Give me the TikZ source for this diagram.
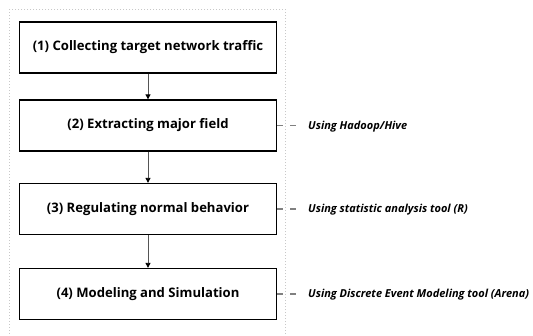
\documentclass[tikz,border=0pt]{standalone}
\usepackage{fontspec}
\setmainfont{Open Sans}
\usetikzlibrary{arrows.meta}
\definecolor{framegray}{HTML}{C8C8C8}
\definecolor{linkgray}{HTML}{808080}
\definecolor{arrowgray}{HTML}{555555}
\begin{document}
\begin{tikzpicture}[x=1pt,y=-1pt,
  stepbox/.style={draw=black,line width=1.3pt,minimum width=257pt,minimum height=51pt,
    inner sep=0pt,font=\fontsize{13.1}{15}\selectfont\bfseries},
  flow/.style={draw=arrowgray,line width=0.8pt,-{Triangle[length=5pt,width=5pt,color=black]}},
  link/.style={draw=linkgray,line width=1.3pt,dash pattern=on 6pt off 7pt},
  note/.style={anchor=west,inner sep=0pt,font=\fontsize{11}{13}\selectfont\bfseries\itshape}]
\useasboundingbox (0,0) rectangle (533,335);
\begin{scope}
\clip (0,0) rectangle (533,335);
\draw[framegray,line width=1pt,dotted] (9,9) rectangle (285,350);
\end{scope}
\node[stepbox] (s1) at (148,47.5) {(1) Collecting target network traffic};
\node[stepbox] (s2) at (148,125.5) {(2) Extracting major field};
\node[stepbox] (s3) at (148,209) {(3) Regulating normal behavior};
\node[stepbox] (s4) at (148,294) {(4) Modeling and Simulation};
\draw[flow] (s1) -- (s2);
\draw[flow] (s2) -- (s3);
\draw[flow] (s3) -- (s4);
\coordinate (e2) at (298,125.5);
\coordinate (e3) at (298,209);
\coordinate (e4) at (298,294);
\draw[link] (s2.east) -- (e2);
\draw[link] (s3.east) -- (e3);
\draw[link] (s4.east) -- (e4);
\node[note] (n2) at (308,126.5) {Using Hadoop/Hive};
\node[note] (n3) at (308,210) {Using statistic analysis tool (R)};
\node[note] (n4) at (308,295) {Using Discrete Event Modeling tool (Arena)};
\end{tikzpicture}
\end{document}
